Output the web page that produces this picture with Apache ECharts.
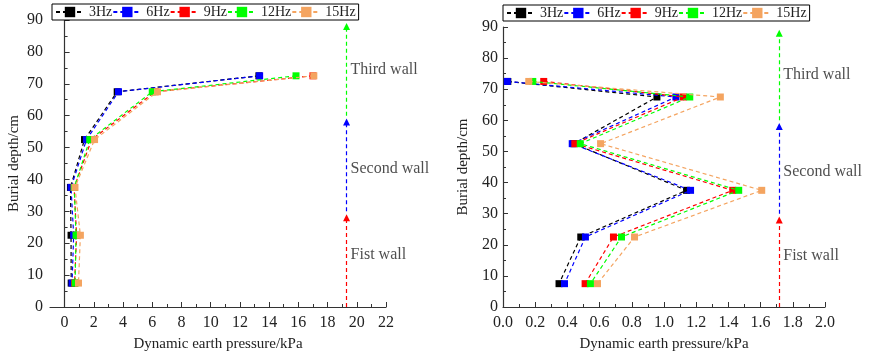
<!DOCTYPE html>
<html>
<head>
<meta charset="utf-8">
<script src="https://cdn.jsdelivr.net/npm/echarts@6/dist/echarts.min.js"></script>
<style>
  html, body { margin: 0; padding: 0; background: #fff; }
  #chart { width: 869px; height: 357px; }
</style>
</head>
<body>
<div id="chart"></div>
<script>
const seriesNames = ["3Hz", "6Hz", "9Hz", "12Hz", "15Hz"];
const seriesColors = ["#000000", "#0000ff", "#ff0000", "#00ff00", "#f4a460"];
const depths = [72.5, 67.5, 52.5, 37.5, 22.5, 7.5];

// left panel, pressure per frequency (same order as depths)
const leftValues = [
  [13.3, 3.6, 1.36, 0.40, 0.44, 0.45],
  [13.35, 3.69, 1.5, 0.44, 0.62, 0.51],
  [17.0, 6.2, 1.85, 0.65, 0.82, 0.68],
  [15.84, 6.0, 1.72, 0.66, 0.78, 0.72],
  [17.06, 6.36, 2.05, 0.71, 1.08, 0.95],
];

// right panel
const rightValues = [
  [0.03, 0.956, 0.44, 1.14, 0.483, 0.348],
  [0.027, 1.074, 0.43, 1.165, 0.512, 0.382],
  [0.253, 1.12, 0.446, 1.427, 0.686, 0.51],
  [0.185, 1.16, 0.48, 1.464, 0.736, 0.543],
  [0.16, 1.35, 0.606, 1.607, 0.817, 0.587],
];

const wallNames = ["Fist wall", "Second wall", "Third wall"];
const wallRanges = [[0, 28], [30, 58], [60, 88]];
const wallColors = ["#ff0000", "#0000ff", "#00ff00"];
const wallLabelDepths = [16.5, 43.3, 74.5];
const leftWallX = 19.3;
const rightWallX = 1.716;

const leftMajorTicks = [0, 2, 4, 6, 8, 10, 12, 14, 16, 18, 20, 22];
const leftMinorTicks = [1, 3, 5, 7, 9, 11, 13, 15, 17, 19, 21];

const font = "Liberation Serif";

const chart = echarts.init(document.getElementById("chart"));

const dataSeries = (values, xIdx, yIdx) =>
  values.map((vals, i) => ({
    name: seriesNames[i],
    type: "line",
    xAxisIndex: xIdx,
    yAxisIndex: yIdx,
    symbol: "rect",
    symbolSize: 7,
    showSymbol: true,
    itemStyle: { color: seriesColors[i] },
    lineStyle: { color: seriesColors[i], width: 1.2, type: [4, 3] },
    data: vals.map((v, k) => [v, depths[k]]),
    z: 3 + i,
  }));

const wallSeries = (wx, xIdx, yIdx) => [
  {
    type: "line",
    xAxisIndex: xIdx,
    yAxisIndex: yIdx,
    data: [],
    silent: true,
    markLine: {
      silent: true,
      symbol: ["none", "triangle"],
      symbolSize: 7,
      label: { show: false },
      lineStyle: { width: 1.2, type: [4, 3] },
      data: wallRanges.map((r, i) => [
        { coord: [wx, r[0]], lineStyle: { color: wallColors[i] }, itemStyle: { color: wallColors[i] } },
        { coord: [wx, r[1]], itemStyle: { color: wallColors[i] } },
      ]),
    },
  },
  {
    type: "scatter",
    xAxisIndex: xIdx,
    yAxisIndex: yIdx,
    symbolSize: 0,
    silent: true,
    data: wallNames.map((n, i) => ({ value: [wx, wallLabelDepths[i]], name: n })),
    label: {
      show: true,
      position: "right",
      distance: 4,
      formatter: (p) => p.name,
      color: "#222",
      fontFamily: font,
      fontSize: 16,
    },
  },
];

const yAxisCommon = {
  type: "value",
  min: 0,
  max: 90,
  interval: 10,
  name: "Burial depth/cm",
  nameLocation: "middle",
  nameTextStyle: { fontFamily: font, fontSize: 15, color: "#222" },
  axisLine: { show: true, lineStyle: { color: "#333", width: 1.2 } },
  axisTick: { show: true, inside: true, length: 5, lineStyle: { color: "#333" } },
  minorTick: { show: true, splitNumber: 2, length: 3, lineStyle: { color: "#333" } },
  axisLabel: { fontFamily: font, fontSize: 16, color: "#222" },
  splitLine: { show: false },
};

const xName = {
  name: "Dynamic earth pressure/kPa",
  nameLocation: "middle",
  nameGap: 30,
  nameTextStyle: { fontFamily: font, fontSize: 15, color: "#222" },
};

const legendCommon = {
  orient: "horizontal",
  itemWidth: 28,
  itemHeight: 13,
  itemGap: 0,
  padding: [1, 3],
  borderColor: "#000",
  borderWidth: 1,
  backgroundColor: "#fff",
  data: seriesNames,
};

chart.setOption({
  animation: false,
  grid: [
    { left: 50, top: 20, width: 336, height: 287 },
    { left: 503, top: 27, width: 322, height: 280 },
  ],
  legend: [
    { ...legendCommon, left: 52, top: 4, textStyle: { fontFamily: font, fontSize: 14, color: "#222" } },
    { ...legendCommon, left: 503, top: 5, textStyle: { fontFamily: font, fontSize: 14, color: "#222" } },
  ],
  xAxis: [
    {
      type: "value",
      gridIndex: 0,
      min: -1,
      max: 22,
      ...xName,
      axisLine: { show: true, onZero: false, lineStyle: { color: "#333", width: 1.2 } },
      axisTick: { show: true, inside: true, length: 5, customValues: leftMajorTicks, lineStyle: { color: "#333" } },
      axisLabel: { customValues: leftMajorTicks, margin: 8, fontFamily: font, fontSize: 16, color: "#222" },
      splitLine: { show: false },
    },
    {
      type: "value",
      gridIndex: 0,
      position: "bottom",
      offset: 0,
      min: -1,
      max: 22,
      axisLine: { show: false, onZero: false },
      axisTick: { show: true, inside: true, length: 3, customValues: leftMinorTicks, lineStyle: { color: "#333" } },
      axisLabel: { show: false },
      splitLine: { show: false },
    },
    {
      type: "value",
      gridIndex: 1,
      min: 0,
      max: 2,
      interval: 0.2,
      ...xName,
      axisLine: { show: true, onZero: false, lineStyle: { color: "#333", width: 1.2 } },
      axisTick: { show: true, inside: true, length: 5, lineStyle: { color: "#333" } },
      minorTick: { show: true, splitNumber: 2, length: 3, lineStyle: { color: "#333" } },
      axisLabel: { margin: 8, fontFamily: font, fontSize: 16, color: "#222", formatter: (v) => v.toFixed(1) },
      splitLine: { show: false },
    },
  ],
  yAxis: [
    { ...yAxisCommon, gridIndex: 0, nameGap: 28, axisLabel: { ...yAxisCommon.axisLabel, margin: 7 } },
    { ...yAxisCommon, gridIndex: 1, nameGap: 32, axisLabel: { ...yAxisCommon.axisLabel, margin: 5 } },
  ],
  series: [
    ...wallSeries(leftWallX, 0, 0),
    ...dataSeries(leftValues, 0, 0),
    ...wallSeries(rightWallX, 2, 1),
    ...dataSeries(rightValues, 2, 1),
  ],
});
</script>
</body>
</html>
